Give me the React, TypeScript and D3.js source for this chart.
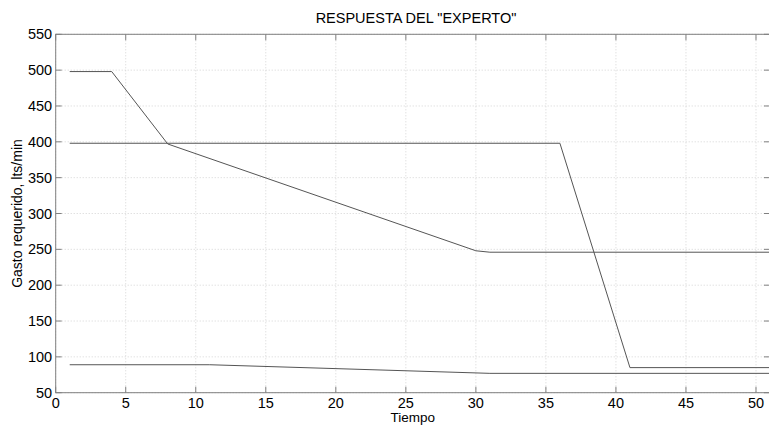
import React from "react";
import * as d3 from "d3";

const xTicks = [0, 5, 10, 15, 20, 25, 30, 35, 40, 45, 50];
const yTicks = [50, 100, 150, 200, 250, 300, 350, 400, 450, 500, 550];

const seriesATime = [1, 4, 8, 30, 31, 51];
const seriesAValue = [498, 498, 397, 248, 246, 246];

const seriesBTime = [1, 36, 41, 51];
const seriesBValue = [398, 398, 85, 85];

const seriesCTime = [1, 11, 31, 51];
const seriesCValue = [89, 89, 77, 77];

const titleText = 'RESPUESTA DEL "EXPERTO"';
const xLabel = "Tiempo";
const yLabel = "Gasto requerido, lts/min";

const W = 769;
const H = 425;
const L = 55.7;
const R = 770;
const T = 34.3;
const B = 392.7;

export default function App() {
  const x = d3.scaleLinear().domain([0, 51]).range([L, R]);
  const y = d3.scaleLinear().domain([50, 550]).range([B, T]);
  const line = d3
    .line<[number, number]>()
    .x((d) => x(d[0]))
    .y((d) => y(d[1]));
  const series = [
    seriesATime.map((t, i) => [t, seriesAValue[i]] as [number, number]),
    seriesBTime.map((t, i) => [t, seriesBValue[i]] as [number, number]),
    seriesCTime.map((t, i) => [t, seriesCValue[i]] as [number, number]),
  ];
  const font = "'Liberation Sans', Arial, Helvetica, sans-serif";
  const axisColor = "#808080";
  return (
    <svg
      width={W}
      height={H}
      style={{ position: "absolute", left: 0, top: 0, background: "#fff" }}
      fontFamily={font}
    >
      <rect x={0} y={0} width={W} height={H} fill="#fff" />
      {xTicks.map((t) => (
        <line
          key={"gx" + t}
          x1={x(t)}
          x2={x(t)}
          y1={T}
          y2={B}
          stroke="#d4d4d4"
          strokeDasharray="1,2"
        />
      ))}
      {yTicks.map((t) => (
        <line
          key={"gy" + t}
          x1={L}
          x2={R}
          y1={y(t)}
          y2={y(t)}
          stroke="#d4d4d4"
          strokeDasharray="1,2"
        />
      ))}
      {series.map((s, i) => (
        <path key={i} d={line(s) || ""} fill="none" stroke="#555" strokeWidth={1} />
      ))}
      <rect x={L} y={T} width={R - L} height={B - T} fill="none" stroke={axisColor} strokeWidth={1} />
      {xTicks.map((t) => (
        <g key={"tx" + t}>
          <line x1={x(t)} x2={x(t)} y1={B} y2={B - 6} stroke={axisColor} />
          <line x1={x(t)} x2={x(t)} y1={T} y2={T + 6} stroke={axisColor} />
          <text x={x(t)} y={B + 15.5} textAnchor="middle" fontSize={14.5} fill="#000">
            {t}
          </text>
        </g>
      ))}
      {yTicks.map((t) => (
        <g key={"ty" + t}>
          <line x1={L} x2={L + 6} y1={y(t)} y2={y(t)} stroke={axisColor} />
          <line x1={R} x2={R - 6} y1={y(t)} y2={y(t)} stroke={axisColor} />
          <text x={L - 3.5} y={y(t) + 5} textAnchor="end" fontSize={14.5} fill="#000">
            {t}
          </text>
        </g>
      ))}
      <text x={416} y={23} textAnchor="middle" fontSize={14.5} fill="#000">
        {titleText}
      </text>
      <text x={(L + R) / 2} y={422.3} textAnchor="middle" fontSize={13.5} fill="#000">
        {xLabel}
      </text>
      <text
        transform={`translate(22, ${(T + B) / 2}) rotate(-90)`}
        textAnchor="middle"
        fontSize={14}
        fill="#000"
      >
        {yLabel}
      </text>
    </svg>
  );
}
